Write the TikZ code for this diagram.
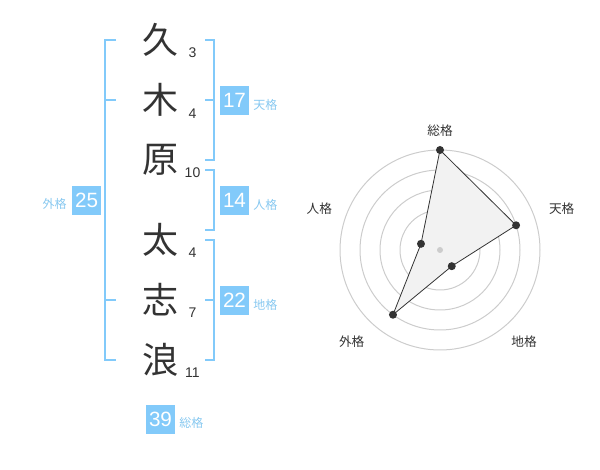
\documentclass[tikz,border=0pt]{standalone}
\usepackage{fontspec}
\setmainfont{Liberation Sans}
\newfontfamily\jpfont{Noto Sans CJK JP}
\definecolor{SkyBox}{RGB}{130, 202, 250}
\definecolor{SkyText}{RGB}{135, 200, 240}
\definecolor{InkGray}{RGB}{51, 51, 51}
\definecolor{RingGray}{RGB}{204, 204, 204}
\definecolor{AreaGray}{RGB}{242, 242, 242}
\usetikzlibrary{positioning, calc}

\begin{document}
\begin{tikzpicture}[x=0.75pt, y=-0.75pt,
    kanji/.style={font=\jpfont\fontsize{27}{27}\selectfont, text=InkGray, inner sep=0pt},
    stroke/.style={font=\fontsize{10.5}{10.5}\selectfont, text=InkGray, inner sep=0pt},
    scorebox/.style={fill=SkyBox, text=white, minimum size=21.75pt, inner sep=0pt,
      font=\fontsize{15.5}{15.5}\selectfont},
    scorename/.style={font=\jpfont\fontsize{9}{9}\selectfont, text=SkyText, inner sep=0pt},
    bracket/.style={draw=SkyBox, line width=1.5pt},
    axisname/.style={font=\jpfont\fontsize{9.5}{9.5}\selectfont, text=InkGray, inner sep=0pt},
    vertex/.style={circle, fill=InkGray, minimum size=6pt, inner sep=0pt}]
    \useasboundingbox (0,0) rectangle (600,470);

    % Name characters and stroke counts
    \node[kanji] (k1) at (160,40) {久};
    \node[kanji] (k2) at (160,100) {木};
    \node[kanji] (k3) at (160,160) {原};
    \node[kanji] (k4) at (160,240) {太};
    \node[kanji] (k5) at (160,300) {志};
    \node[kanji] (k6) at (160,360) {浪};
    \node[stroke] (s1) at (192.5,52.7) {3};
    \node[stroke] (s2) at (192.5,113.3) {4};
    \node[stroke] (s3) at (192.5,172.7) {10};
    \node[stroke] (s4) at (192.5,252.7) {4};
    \node[stroke] (s5) at (192.5,312.7) {7};
    \node[stroke] (s6) at (192.5,372.7) {11};

    % Brackets
    \draw[bracket] (116,40) -- (105,40) -- (105,360) -- (116,360);
    \draw[bracket] (105,100) -- (116,100) (105,300) -- (116,300);
    \draw[bracket] (205,40) -- (214,40) -- (214,160) -- (205,160) (205,100) -- (214,100);
    \draw[bracket] (205,170) -- (214,170) -- (214,230) -- (205,230);
    \draw[bracket] (205,240) -- (214,240) -- (214,360) -- (205,360) (205,300) -- (214,300);

    % Scores
    \node[scorebox] (ten) at (234.5,100.5) {17};
    \node[scorename, anchor=west] (tenname) at (253,104.5) {天格};
    \node[scorebox] (jin) at (234.5,200.5) {14};
    \node[scorename, anchor=west] (jinname) at (253,204.5) {人格};
    \node[scorebox] (chi) at (234.5,300.5) {22};
    \node[scorename, anchor=west] (chiname) at (253,304.5) {地格};
    \node[scorebox] (gai) at (86.7,200.5) {25};
    \node[scorename, anchor=east] (gainame) at (67,204) {外格};
    \node[scorebox] (sou) at (160.5,419) {39};
    \node[scorename, anchor=west] (souname) at (179,423) {総格};

    % Radar chart
    \coordinate (ctr) at (440,250);
    \foreach \r in {20,40,60,80,100}
      \draw[RingGray, line width=0.75pt] (ctr) circle[radius=\r];
    \coordinate (v1) at ($(ctr)+(-90:100)$);
    \coordinate (v2) at ($(ctr)+(-18:80)$);
    \coordinate (v3) at ($(ctr)+(54:20)$);
    \coordinate (v4) at ($(ctr)+(126:80)$);
    \coordinate (v5) at ($(ctr)+(198:20)$);
    \draw[fill=AreaGray, draw=InkGray, line width=0.6pt] (v1) -- (v2) -- (v3) -- (v4) -- (v5) -- cycle;
    \fill[RingGray] (ctr) circle[radius=3];
    \foreach \v in {v1,v2,v3,v4,v5}
      \node[vertex] at (\v) {};
    \node[axisname] (a1) at (440,130.7) {総格};
    \node[axisname] (a2) at (561.7,208.3) {天格};
    \node[axisname] (a3) at (524,341.7) {地格};
    \node[axisname] (a4) at (351.7,341.7) {外格};
    \node[axisname] (a5) at (319.3,208.3) {人格};
\end{tikzpicture}
\end{document}
